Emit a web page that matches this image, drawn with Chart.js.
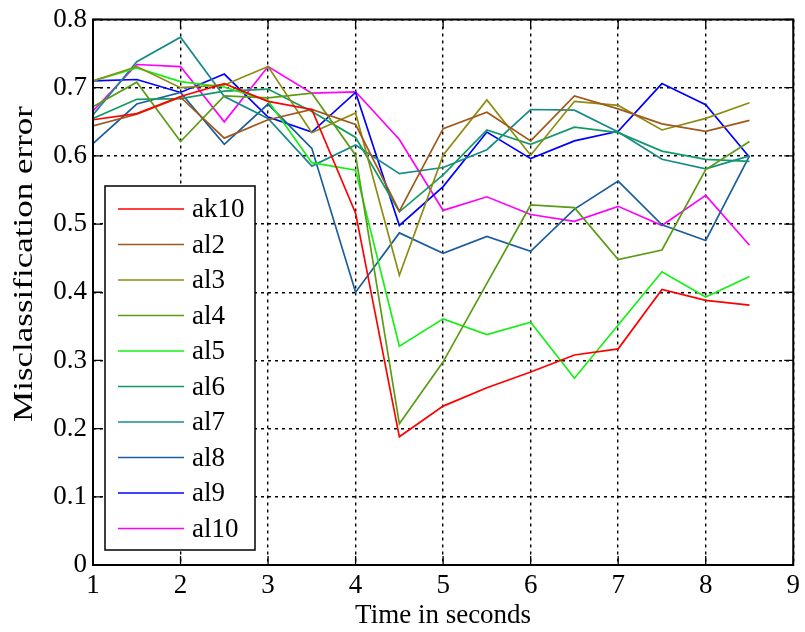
<!DOCTYPE html>
<html>
<head>
<meta charset="utf-8">
<script src="https://cdn.jsdelivr.net/npm/chart.js@4.4.0/dist/chart.umd.min.js"></script>
<style>
  html, body { margin: 0; padding: 0; background: #fff; }
</style>
</head>
<body>
<canvas id="c" width="805" height="632"></canvas>
<script>
// time axis (seconds)
const timeSec = [1, 1.5, 2, 2.5, 3, 3.5, 4, 4.5, 5, 5.5, 6, 6.5, 7, 7.5, 8, 8.5];

// misclassification error per series
const ak10 = [0.653, 0.662, 0.687, 0.706, 0.680, 0.668, 0.516, 0.188, 0.233, 0.260, 0.283, 0.308, 0.317, 0.404, 0.388, 0.381];
const al2  = [0.644, 0.661, 0.686, 0.626, 0.653, 0.668, 0.646, 0.519, 0.640, 0.664, 0.622, 0.688, 0.669, 0.647, 0.636, 0.652];
const al3  = [0.710, 0.731, 0.700, 0.704, 0.731, 0.634, 0.663, 0.425, 0.601, 0.682, 0.601, 0.680, 0.674, 0.638, 0.655, 0.678];
const al4  = [0.672, 0.708, 0.621, 0.688, 0.685, 0.692, 0.601, 0.207, 0.298, 0.413, 0.528, 0.524, 0.448, 0.462, 0.580, 0.621];
const al5  = [0.710, 0.729, 0.709, 0.701, 0.681, 0.590, 0.579, 0.321, 0.361, 0.338, 0.356, 0.274, 0.352, 0.430, 0.393, 0.423];
const al6  = [0.655, 0.683, 0.684, 0.695, 0.698, 0.665, 0.627, 0.518, 0.572, 0.638, 0.617, 0.642, 0.634, 0.607, 0.595, 0.592];
const al7  = [0.660, 0.738, 0.774, 0.687, 0.655, 0.585, 0.616, 0.574, 0.583, 0.609, 0.668, 0.667, 0.635, 0.595, 0.581, 0.600];
const al8  = [0.618, 0.676, 0.693, 0.617, 0.676, 0.611, 0.400, 0.487, 0.457, 0.482, 0.460, 0.522, 0.563, 0.499, 0.476, 0.600];
const al9  = [0.710, 0.712, 0.693, 0.720, 0.657, 0.635, 0.693, 0.498, 0.555, 0.635, 0.596, 0.622, 0.636, 0.706, 0.675, 0.598];
const al10 = [0.666, 0.734, 0.731, 0.650, 0.731, 0.692, 0.694, 0.624, 0.520, 0.540, 0.514, 0.504, 0.526, 0.498, 0.542, 0.469];

const seriesNames = ["ak10", "al2", "al3", "al4", "al5", "al6", "al7", "al8", "al9", "al10"];
const seriesData  = [ak10, al2, al3, al4, al5, al6, al7, al8, al9, al10];
const seriesCols  = ["#ff0000", "#a0581c", "#8c8c12", "#5a9c14", "#14f014",
                     "#129a66", "#188a8a", "#1a5e9c", "#0000ff", "#ff00ff"];

const yTitle = "Misclassification error";

const FONT = "'Liberation Serif', 'Times New Roman', serif";

// frame + inward tick marks, like a matlab box
const frameTicks = {
  id: "frameTicks",
  afterDraw(chart) {
    const { ctx, chartArea: a, scales: { x, y } } = chart;
    const T = 9;
    ctx.save();
    ctx.strokeStyle = "#000";
    ctx.lineWidth = 1.3;
    ctx.beginPath();
    y.ticks.forEach(t => {
      const py = y.getPixelForValue(t.value);
      ctx.moveTo(a.left, py);  ctx.lineTo(a.left + T, py);
      ctx.moveTo(a.right, py); ctx.lineTo(a.right - T, py);
    });
    x.ticks.forEach(t => {
      const px = x.getPixelForValue(t.value);
      ctx.moveTo(px, a.bottom); ctx.lineTo(px, a.bottom - T);
      ctx.moveTo(px, a.top);    ctx.lineTo(px, a.top + T);
    });
    ctx.stroke();
    ctx.lineWidth = 2;
    ctx.strokeRect(a.left, a.top, a.right - a.left, a.bottom - a.top);
    ctx.restore();
  }
};

// y title, a bit stretched along its length like the original figure
const yTitlePlugin = {
  id: "yTitlePlugin",
  afterDraw(chart) {
    const ctx = chart.ctx;
    ctx.save();
    ctx.translate(25, 264);
    ctx.rotate(-Math.PI / 2);
    ctx.scale(1.25, 1);
    ctx.font = "28px " + FONT;
    ctx.fillStyle = "#000";
    ctx.textAlign = "center";
    ctx.textBaseline = "middle";
    ctx.fillText(yTitle, 0, 0);
    ctx.restore();
  }
};

// boxed legend inside the plot, lower left
const boxLegend = {
  id: "boxLegend",
  afterDraw(chart) {
    const ctx = chart.ctx;
    const bx = 105, by = 186, bw = 150, bh = 364;
    const row0 = 209, rowH = 35.5;
    ctx.save();
    ctx.fillStyle = "#fff";
    ctx.fillRect(bx, by, bw, bh);
    ctx.strokeStyle = "#000";
    ctx.lineWidth = 1.5;
    ctx.strokeRect(bx, by, bw, bh);
    ctx.font = "27px " + FONT;
    ctx.textBaseline = "middle";
    ctx.textAlign = "left";
    chart.data.datasets.forEach((ds, i) => {
      const yy = row0 + i * rowH;
      ctx.strokeStyle = ds.borderColor;
      ctx.lineWidth = 1.6;
      ctx.beginPath();
      ctx.moveTo(118, yy);
      ctx.lineTo(184, yy);
      ctx.stroke();
      ctx.fillStyle = "#000";
      ctx.fillText(ds.label, 192, yy + 1);
    });
    ctx.restore();
  }
};

new Chart(document.getElementById("c").getContext("2d"), {
  type: "line",
  data: {
    datasets: seriesNames.map((name, i) => ({
      label: name,
      data: timeSec.map((t, k) => ({ x: t, y: seriesData[i][k] })),
      borderColor: seriesCols[i],
      backgroundColor: seriesCols[i],
      borderWidth: 1.7,
      pointRadius: 0,
      tension: 0,
      fill: false
    }))
  },
  options: {
    responsive: false,
    animation: false,
    layout: { padding: { top: 15, right: 9, left: 0, bottom: 0 } },
    plugins: {
      legend: { display: false },
      tooltip: { enabled: false }
    },
    scales: {
      x: {
        type: "linear",
        min: 1, max: 9,
        afterFit: s => { s.height = 67; },
        ticks: { stepSize: 1, color: "#000", padding: 5, font: { family: FONT, size: 27 } },
        grid: { color: "#000", lineWidth: 1.4, drawTicks: false },
        border: { display: false, dash: [3, 4] },
        title: {
          display: true, text: "Time in seconds", color: "#000",
          font: { family: FONT, size: 27 }, padding: { top: 0, bottom: 0 }
        }
      },
      y: {
        min: 0, max: 0.8,
        afterFit: s => { s.width = 93; },
        ticks: {
          stepSize: 0.1, color: "#000", padding: 6,
          font: { family: FONT, size: 27, lineHeight: 1 },
          callback: v => String(+v.toFixed(1))
        },
        grid: { color: "#000", lineWidth: 1.4, drawTicks: false },
        border: { display: false, dash: [3, 4] },
        title: { display: false }
      }
    }
  },
  plugins: [frameTicks, yTitlePlugin, boxLegend]
});
</script>
</body>
</html>
